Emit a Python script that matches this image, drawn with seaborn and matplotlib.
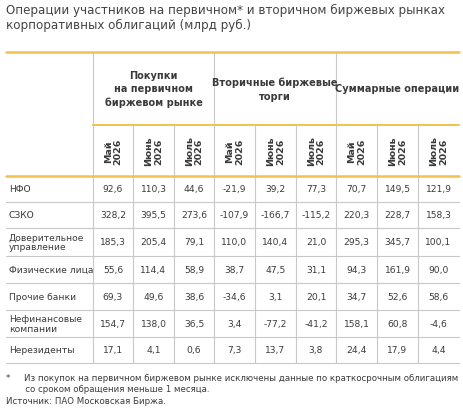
import matplotlib
matplotlib.use("Agg")
import matplotlib.pyplot as plt
import seaborn as sns

sns.set_theme(style="white")
plt.rcParams['font.family'] = ['DejaVu Sans']

# ── данные ──
title = "Операции участников на первичном* и вторичном биржевых рынках\nкорпоративных облигаций (млрд руб.)"
groups = ["Покупки\nна первичном\nбиржевом рынке", "Вторичные биржевые\nторги", "Суммарные операции"]
months = ["Май\n2026", "Июнь\n2026", "Июль\n2026"]
rows = ["НФО", "СЗКО", "Доверительное\nуправление", "Физические лица",
        "Прочие банки", "Нефинансовые\nкомпании", "Нерезиденты"]
primary = [[92.6, 110.3, 44.6], [328.2, 395.5, 273.6], [185.3, 205.4, 79.1],
           [55.6, 114.4, 58.9], [69.3, 49.6, 38.6], [154.7, 138.0, 36.5], [17.1, 4.1, 0.6]]
secondary = [[-21.9, 39.2, 77.3], [-107.9, -166.7, -115.2], [110.0, 140.4, 21.0],
             [38.7, 47.5, 31.1], [-34.6, 3.1, 20.1], [3.4, -77.2, -41.2], [7.3, 13.7, 3.8]]
total = [[70.7, 149.5, 121.9], [220.3, 228.7, 158.3], [295.3, 345.7, 100.1],
         [94.3, 161.9, 90.0], [34.7, 52.6, 58.6], [158.1, 60.8, -4.6], [24.4, 17.9, 4.4]]
footnote = ("*     Из покупок на первичном биржевом рынке исключены данные по краткосрочным облигациям\n"
            "       со сроком обращения меньше 1 месяца.")
source = "Источник: ПАО Московская Биржа."

# ── геометрия (пиксели) ──
W, H = 464, 414
YEL = "#F2C14E"
GRID = "#C8C8C8"
TXT = "#3A3A3A"
col_edges = [6, 93, 133, 174, 214, 255, 296, 336, 377, 418, 459]
row_edges = [177, 203, 229, 257, 284, 311, 338, 364]
top, mid, head = 53, 126, 177

fig = plt.figure(figsize=(W / 100, H / 100), dpi=100)
ax = fig.add_axes([0, 0, 1, 1])
ax.set_xlim(0, W)
ax.set_ylim(H, 0)
ax.axis("off")

def fmt(v):
    return f"{v:.1f}".replace(".", ",")

ax.text(6, 4, title, fontsize=8.6, color="#444444", va="top", ha="left", linespacing=1.2)

# вертикальные линии: границы групп — от верха, внутри групп — от второго уровня
for i, x in enumerate(col_edges[1:-1]):
    y0 = top if i % 3 == 0 else mid
    ax.plot([x, x], [y0, row_edges[-1]], color=GRID, lw=0.8)
# горизонтальные
for y in row_edges[1:]:
    ax.plot([6, 459], [y, y], color=GRID, lw=0.8)
ax.plot([6, 459], [top, top], color=YEL, lw=1.8)
ax.plot([93, 459], [mid, mid], color=YEL, lw=1.4)
ax.plot([6, 459], [head, head], color=YEL, lw=1.8)

# заголовки групп
for g, name in enumerate(groups):
    x0, x1 = col_edges[1 + 3 * g], col_edges[4 + 3 * g]
    ax.text((x0 + x1) / 2, (top + mid) / 2, name, fontsize=7.0, fontweight="bold",
            color=TXT, ha="center", va="center", linespacing=1.45)
    for m, mon in enumerate(months):
        c0, c1 = col_edges[1 + 3 * g + m], col_edges[2 + 3 * g + m]
        ax.text((c0 + c1) / 2, (mid + head) / 2, mon, fontsize=6.8, fontweight="bold",
                color=TXT, ha="center", va="center", rotation=90, linespacing=1.1)

# строки
for r, label in enumerate(rows):
    yc = (row_edges[r] + row_edges[r + 1]) / 2
    ax.text(9, yc, label, fontsize=6.6, color=TXT, ha="left", va="center", linespacing=1.1)
    vals = primary[r] + secondary[r] + total[r]
    for c, v in enumerate(vals):
        xc = (col_edges[c + 1] + col_edges[c + 2]) / 2
        ax.text(xc, yc, fmt(v), fontsize=6.6, color=TXT, ha="center", va="center")

ax.text(6, 374, footnote, fontsize=6.2, color=TXT, ha="left", va="top", linespacing=1.3)
ax.text(6, 397, source, fontsize=6.2, color=TXT, ha="left", va="top")

fig.savefig("out.png", dpi=100, facecolor="white")
